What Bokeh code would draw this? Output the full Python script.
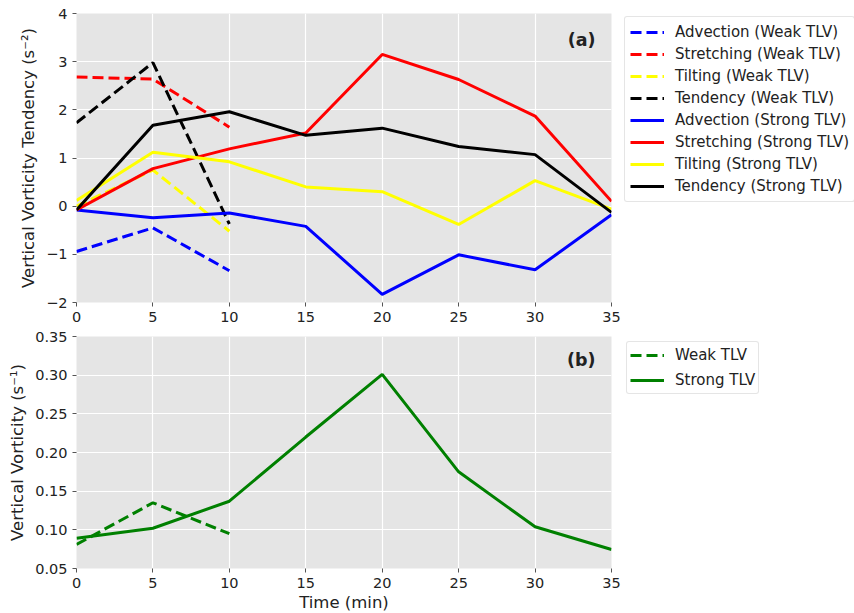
from bokeh.plotting import figure
from bokeh.layouts import column
from bokeh.models import FixedTicker, Label, Legend, LegendItem
from bokeh.embed import file_html
from bokeh.resources import INLINE

# Time axis (min)
time_weak = [0, 5, 10]
time_strong = [0, 5, 10, 15, 20, 25, 30, 35]

# Vertical vorticity tendency terms (s^-2)
advection_weak = [-0.94, -0.45, -1.34]
stretching_weak = [2.68, 2.64, 1.64]
tilting_weak = [0.0, 0.75, -0.52]
tendency_weak = [1.73, 2.98, -0.37]

advection_strong = [-0.08, -0.24, -0.14, -0.42, -1.83, -1.01, -1.32, -0.18]
stretching_strong = [-0.08, 0.78, 1.19, 1.52, 3.15, 2.63, 1.87, 0.10]
tilting_strong = [0.12, 1.12, 0.92, 0.40, 0.30, -0.38, 0.53, -0.06]
tendency_strong = [-0.08, 1.68, 1.96, 1.47, 1.62, 1.24, 1.07, -0.13]

# Vertical vorticity (s^-1)
vorticity_weak = [0.081, 0.135, 0.095]
vorticity_strong = [0.089, 0.102, 0.137, 0.220, 0.301, 0.175, 0.104, 0.0745]

x_ticks = [0, 5, 10, 15, 20, 25, 30, 35]
ya_ticks = [-2, -1, 0, 1, 2, 3, 4]
yb_ticks = [0.05, 0.10, 0.15, 0.20, 0.25, 0.30, 0.35]

FONT = "DejaVu Sans"
TEXT = "#222222"
LW = 3
DASH = "11 5"


def style(p):
    p.background_fill_color = "#E5E5E5"
    p.border_fill_color = "white"
    p.outline_line_color = None
    for g in (p.xgrid[0], p.ygrid[0]):
        g.grid_line_color = "white"
        g.grid_line_width = 1.2
    for ax in (p.xaxis[0], p.yaxis[0]):
        ax.axis_line_color = None
        ax.major_tick_line_color = "#555555"
        ax.major_tick_out = 4
        ax.major_tick_in = 0
        ax.minor_tick_line_color = None
        ax.major_label_text_font = FONT
        ax.major_label_text_font_size = "14.5px"
        ax.major_label_text_color = TEXT
        ax.axis_label_text_font = FONT
        ax.axis_label_text_font_size = "16.5px"
        ax.axis_label_text_font_style = "normal"
        ax.axis_label_text_color = TEXT
    p.xaxis[0].ticker = FixedTicker(ticks=x_ticks)
    p.xaxis[0].major_label_standoff = 5


def make_legend(items, loc, glyph_h, spacing, padding):
    leg = Legend(items=items, location=loc)
    leg.label_text_font = FONT
    leg.label_text_font_size = "15px"
    leg.label_text_color = TEXT
    leg.border_line_color = "#CCCCCC"
    leg.border_line_width = 1
    leg.border_radius = 3
    leg.background_fill_color = "white"
    leg.background_fill_alpha = 0.85
    leg.glyph_width = 34
    leg.glyph_height = glyph_h
    leg.label_height = glyph_h
    leg.spacing = spacing
    leg.label_standoff = 11
    leg.padding = padding
    leg.margin = 13
    return leg


# Panel (a): vorticity budget terms
pa = figure(frame_width=535, frame_height=289, x_range=(0, 35), y_range=(-2, 4),
            min_border_left=76, min_border_right=0, min_border_top=13,
            min_border_bottom=24, output_backend="svg", toolbar_location=None)
style(pa)
pa.yaxis[0].ticker = FixedTicker(ticks=ya_ticks)
pa.yaxis[0].major_label_overrides = {-2: "\u22122", -1: "\u22121"}
pa.yaxis[0].axis_label = "Vertical Vorticity Tendency (s\u207b\u00b2)"

colors = ["blue", "red", "yellow", "black"]
names = ["Advection", "Stretching", "Tilting", "Tendency"]
weak = [advection_weak, stretching_weak, tilting_weak, tendency_weak]
strong = [advection_strong, stretching_strong, tilting_strong, tendency_strong]
items_a = []
for c, n, ys in zip(colors, names, weak):
    r = pa.line(time_weak, ys, color=c, line_width=LW, line_dash=DASH)
    items_a.append(LegendItem(label=f"{n} (Weak TLV)", renderers=[r]))
for c, n, ys in zip(colors, names, strong):
    r = pa.line(time_strong, ys, color=c, line_width=LW)
    items_a.append(LegendItem(label=f"{n} (Strong TLV)", renderers=[r]))

pa.add_layout(make_legend(items_a, (13, 100), 20, 2, 5), "right")

pa.add_layout(Label(x=33.95, y=3.44, text="(a)", text_align="right",
                    text_baseline="middle", text_font=FONT,
                    text_font_size="17.5px", text_font_style="bold",
                    text_color=TEXT))

# Panel (b): vertical vorticity
pb = figure(frame_width=535, frame_height=232, x_range=(0, 35), y_range=(0.05, 0.35),
            min_border_left=76, min_border_right=0, min_border_top=10,
            min_border_bottom=45, output_backend="svg", toolbar_location=None)
style(pb)
pb.yaxis[0].ticker = FixedTicker(ticks=yb_ticks)
pb.yaxis[0].major_label_overrides = {t: f"{t:.2f}" for t in yb_ticks}
pb.yaxis[0].axis_label = "Vertical Vorticity (s\u207b\u00b9)"
pb.xaxis[0].axis_label = "Time (min)"
pb.xaxis[0].axis_label_standoff = 2

rw = pb.line(time_weak, vorticity_weak, color="green", line_width=LW, line_dash=DASH)
rs = pb.line(time_strong, vorticity_strong, color="green", line_width=LW)
items_b = [LegendItem(label="Weak TLV", renderers=[rw]),
           LegendItem(label="Strong TLV", renderers=[rs])]
pb.add_layout(make_legend(items_b, (15, 174), 20, 5, 3), "right")

pb.add_layout(Label(x=33.95, y=0.319, text="(b)", text_align="right",
                    text_baseline="middle", text_font=FONT,
                    text_font_size="17.5px", text_font_style="bold",
                    text_color=TEXT))

layout = column(pa, pb, spacing=0)
open("out.html", "w").write(file_html(layout, INLINE))
